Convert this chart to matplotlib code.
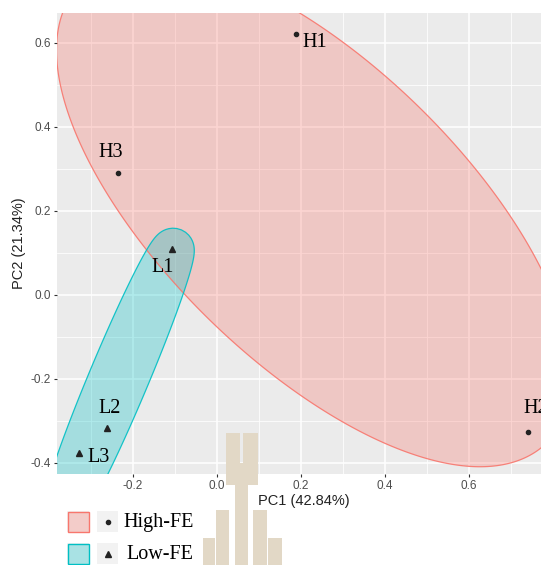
import numpy as np
import matplotlib
matplotlib.use("Agg")
import matplotlib.pyplot as plt
from matplotlib.patches import Polygon, Rectangle
from matplotlib.lines import Line2D

plt.rcParams['axes.unicode_minus'] = False

# PCA scores
high_names = ["H1", "H2", "H3"]
high_pc1 = [0.187, 0.741, -0.235]
high_pc2 = [0.621, -0.327, 0.290]

low_names = ["L1", "L2", "L3"]
low_pc1 = [-0.108, -0.261, -0.328]
low_pc2 = [0.109, -0.316, -0.377]

groups = ["High-FE", "Low-FE"]
x_title = "PC1 (42.84%)"
y_title = "PC2 (21.34%)"
x_ticks = [-0.2, 0.0, 0.2, 0.4, 0.6]
y_ticks = [-0.4, -0.2, 0.0, 0.2, 0.4, 0.6]

# label offsets in pixels (dx right, dy up), like ggrepel placed them
high_offsets = [(19, -8), (8, 24), (-8, 21)]
low_offsets = [(-9, -18), (2, 19), (19, -4)]

W, H = 541, 565
RED = "#F8766D"
TEAL = "#00BFC4"
SERIF = "Liberation Serif"
SANS = "Liberation Sans"


def mark_ellipse(xs, ys, expand, n=400):
    """Minimum enclosing (Steiner) ellipse of 3 points, pushed outwards by
    `expand` like ggforce::geom_mark_ellipse does."""
    pts = np.column_stack([xs, ys])
    c = pts.mean(axis=0)
    S = 2 * np.cov(pts.T, bias=True)
    L = np.linalg.cholesky(S)
    t = np.linspace(0, 2 * np.pi, n)
    e = (L @ np.vstack([np.cos(t), np.sin(t)])).T
    g = e @ np.linalg.inv(S)
    nrm = g / np.linalg.norm(g, axis=1, keepdims=True)
    return c + e + expand * nrm


def fx(x):
    return x / W


def fy(y):
    return 1 - y / H


fig = plt.figure(figsize=(W / 100, H / 100), dpi=100)
ax = fig.add_axes([fx(57), fy(474), (551 - 57) / W, (474 - 13) / H])
ax.set_facecolor("#EBEBEB")
ax.set_xlim(-0.381, 0.7952)
ax.set_ylim(-0.4262, 0.6714)

for s in ax.spines.values():
    s.set_visible(False)
ax.set_xticks(x_ticks)
ax.set_yticks(y_ticks)
ax.set_xticklabels([f"{v:.1f}" for v in x_ticks])
ax.set_yticklabels([f"{v:.1f}" for v in y_ticks])
ax.set_xticks(np.arange(-0.3, 0.8, 0.2), minor=True)
ax.set_yticks(np.arange(-0.3, 0.7, 0.2), minor=True)
ax.tick_params(which="major", length=2.5, width=0.8, color="#333333",
               labelsize=8.5, labelcolor="#4D4D4D", pad=2)
ax.tick_params(which="minor", length=0)
for lab in ax.get_xticklabels() + ax.get_yticklabels():
    lab.set_family(SANS)
ax.set_axisbelow(True)
ax.grid(which="major", color="white", linewidth=1.1)
ax.grid(which="minor", color="white", linewidth=0.55)

# group hulls
for xs, ys, col in [(high_pc1, high_pc2, RED), (low_pc1, low_pc2, TEAL)]:
    poly = mark_ellipse(xs, ys, expand=0.048)
    ax.add_patch(Polygon(poly, closed=True, facecolor=col, alpha=0.3,
                         edgecolor="none", zorder=1))
    ax.add_patch(Polygon(poly, closed=True, facecolor="none",
                         edgecolor=col, linewidth=0.9, alpha=0.9, zorder=1.1))

# points and labels
ax.plot(high_pc1, high_pc2, "o", color="#222222", ms=3, zorder=3)
ax.plot(low_pc1, low_pc2, "^", color="#222222", ms=4, zorder=3)
for names, xs, ys, offs in [(high_names, high_pc1, high_pc2, high_offsets),
                            (low_names, low_pc1, low_pc2, low_offsets)]:
    for nm, x, y, (dx, dy) in zip(names, xs, ys, offs):
        ax.annotate(nm, (x, y), xytext=(dx * 0.72, dy * 0.72),
                    textcoords="offset points", ha="center", va="center",
                    family=SERIF, fontsize=14.5, color="black", zorder=4)

ax.set_xlabel(x_title, family=SANS, fontsize=10.5, color="#222222", labelpad=1.5)
ax.set_ylabel(y_title, family=SANS, fontsize=10.5, color="#222222", labelpad=3)

# legend, drawn by hand
rows = [(511, RED, "o", 3, groups[0], 123), (543, TEAL, "^", 4, groups[1], 126)]
for top, col, mk, ms, txt, tx in rows:
    bot = top + 21
    fig.add_artist(Rectangle((fx(67), fy(bot)), 22 / W, 21 / H,
                             transform=fig.transFigure, facecolor="#F2F2F2",
                             edgecolor="none"))
    fig.add_artist(Rectangle((fx(67.5), fy(bot - 0.5)), 21 / W, 20 / H,
                             transform=fig.transFigure, facecolor=col,
                             alpha=0.3, edgecolor="none"))
    fig.add_artist(Rectangle((fx(67.5), fy(bot - 0.5)), 21 / W, 20 / H,
                             transform=fig.transFigure, facecolor="none",
                             edgecolor=col, linewidth=1.0))
    fig.add_artist(Rectangle((fx(97), fy(bot)), 21 / W, 21 / H,
                             transform=fig.transFigure, facecolor="#F2F2F2",
                             edgecolor="none"))
    fig.add_artist(Line2D([fx(107.5)], [fy(top + 10.5)], marker=mk, ms=ms,
                          color="#222222", linestyle="none",
                          transform=fig.transFigure))
    fig.text(fx(tx), fy(top + 16), txt, family=SERIF, fontsize=14.5,
             ha="left", va="baseline", color="black")

# watermark in the lower middle
wm = [(226, 433, 240, 485), (243, 433, 258, 485), (240, 463, 243, 485),
      (235, 485, 248, 565), (216, 510, 229, 565), (253, 510, 267, 565),
      (203, 538, 215, 565), (268, 538, 282, 565)]
for x0, y0, x1, y1 in wm:
    fig.add_artist(Rectangle((fx(x0), fy(y1)), (x1 - x0) / W, (y1 - y0) / H,
                             transform=fig.transFigure, facecolor="#E2D8C6",
                             edgecolor="none", zorder=5))

fig.savefig("out.png", dpi=100)
